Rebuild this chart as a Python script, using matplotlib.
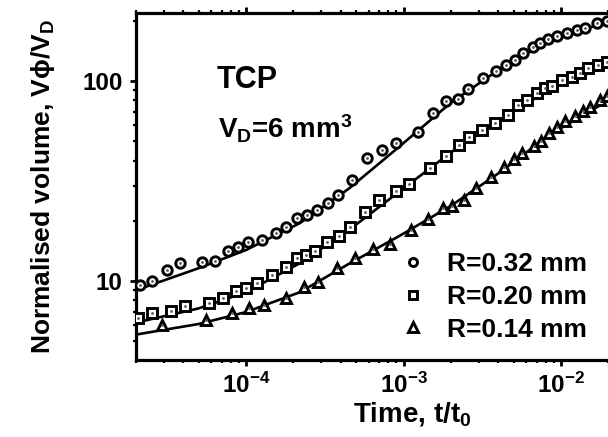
import math

import matplotlib
matplotlib.use('Agg')
import matplotlib.pyplot as plt
import matplotlib.ticker as tkr

plt.rcParams['font.family'] = ['Liberation Sans', 'DejaVu Sans']
plt.rcParams['font.weight'] = 'bold'
plt.rcParams['mathtext.fontset'] = 'custom'
plt.rcParams['mathtext.rm'] = 'Liberation Sans:bold'
plt.rcParams['mathtext.it'] = 'Liberation Sans:bold'
plt.rcParams['mathtext.bf'] = 'Liberation Sans:bold'

# R = 0.32 mm
t_032 = [2.11e-5, 2.52e-5, 3.14e-5, 3.80e-5, 5.25e-5, 6.35e-5, 7.68e-5, 8.89e-5,
         1.03e-4, 1.26e-4, 1.55e-4, 1.80e-4, 2.11e-4, 2.45e-4, 2.83e-4, 3.33e-4,
         3.85e-4, 4.73e-4, 5.90e-4, 7.35e-4, 9.02e-4, 1.23e-3, 1.53e-3, 1.85e-3,
         2.21e-3, 2.56e-3, 3.19e-3, 3.85e-3, 4.47e-3, 5.09e-3, 5.73e-3, 6.64e-3,
         7.35e-3, 8.26e-3, 9.44e-3, 1.09e-2, 1.26e-2, 1.42e-2, 1.69e-2, 1.96e-2]
v_032 = [9.55, 10.0, 11.35, 12.3, 12.4, 12.6, 14.1, 14.8,
         15.7, 16.0, 17.4, 18.6, 20.7, 21.4, 22.6, 24.5,
         26.9, 32.0, 41.2, 45.2, 49.0, 55.6, 69.2, 79.4,
         81.3, 91.2, 103.5, 112, 120, 127, 138, 148,
         155, 162, 168, 174, 180, 184, 195, 200]

# R = 0.20 mm
t_020 = [2.05e-5, 2.52e-5, 3.33e-5, 4.09e-5, 5.81e-5, 7.14e-5, 8.63e-5, 1.0e-4,
         1.17e-4, 1.46e-4, 1.80e-4, 2.11e-4, 2.41e-4, 2.75e-4, 3.28e-4, 3.91e-4,
         4.60e-4, 5.73e-4, 7.03e-4, 8.89e-4, 1.09e-3, 1.47e-3, 1.85e-3, 2.24e-3,
         2.59e-3, 3.14e-3, 3.80e-3, 4.59e-3, 5.32e-3, 6.07e-3, 7.03e-3, 7.91e-3,
         8.77e-3, 1.01e-2, 1.17e-2, 1.32e-2, 1.49e-2, 1.72e-2, 1.96e-2]
v_020 = [6.53, 6.92, 7.08, 7.50, 7.76, 8.22, 8.91, 9.23,
         9.77, 10.7, 11.7, 13.0, 13.5, 14.1, 15.7, 16.8,
         18.6, 22.1, 25.4, 28.2, 30.5, 36.7, 42.2, 47.9,
         52.5, 56.9, 61.7, 67.6, 75.9, 80.4, 87.1, 92.3,
         94.4, 101, 105, 110, 116, 120, 124]

# R = 0.14 mm
t_014 = [2.92e-5, 5.56e-5, 8.14e-5, 1.04e-4, 1.30e-4, 1.80e-4, 2.34e-4, 2.87e-4,
         3.80e-4, 4.94e-4, 6.44e-4, 8.15e-4, 1.12e-3, 1.42e-3, 1.77e-3, 2.02e-3,
         2.41e-3, 2.88e-3, 3.58e-3, 4.33e-3, 5.02e-3, 5.65e-3, 6.73e-3, 7.46e-3,
         8.39e-3, 9.44e-3, 1.06e-2, 1.23e-2, 1.38e-2, 1.53e-2, 1.77e-2, 1.96e-2]
v_014 = [6.03, 6.38, 6.92, 7.33, 7.59, 8.22, 9.33, 9.89,
         11.6, 13.0, 14.5, 15.3, 18.0, 20.4, 23.2, 23.7,
         25.4, 29.2, 33.1, 37.2, 40.7, 43.7, 47.3, 50.1,
         55.0, 58.9, 63.1, 66.8, 70.8, 74.1, 80.4, 84.1]

# fitted curves
t_fit = [2.0e-5, 5.0e-5, 1.0e-4, 2.2e-4, 4.5e-4, 9.4e-4, 2.0e-3, 4.1e-3, 8.5e-3, 2.0e-2]
fit_032 = [9.0, 11.6, 14.3, 19.5, 29.0, 47.0, 78.0, 115, 160, 198]
fit_020 = [6.2, 7.3, 8.8, 12.3, 18.0, 28.0, 44.0, 64.0, 91.0, 120]
fit_014 = [5.4, 6.1, 7.0, 8.8, 12.2, 16.8, 23.8, 35.0, 54.0, 80.0]

labels = ['R=0.32 mm', 'R=0.20 mm', 'R=0.14 mm']

fig = plt.figure(figsize=(6.08, 4.37), dpi=100)
ax = fig.add_axes([0.2237, 0.1762, 0.8263, 0.7941])

for vf in [fit_032, fit_020, fit_014]:
    ax.plot(t_fit, vf, color='black', lw=1.9, zorder=2)

handles = []
for t, v, m, ms, lab in [(t_032, v_032, 'o', 6.8, labels[0]),
                         (t_020, v_020, 's', 6.8, labels[1]),
                         (t_014, v_014, '^', 7.8, labels[2])]:
    h, = ax.plot(t, v, ls='none', marker=m, ms=ms, mfc='white', mec='black',
                 mew=2.1, zorder=3, label=lab)
    ax.plot(t, v, ls='none', marker='.', ms=2, color='0.35', zorder=4)
    handles.append(h)

ax.set_xscale('log')
ax.set_yscale('log')
ax.set_xlim(2e-5, 0.031)
ax.set_ylim(4.03, 219)

def yfmt(y, pos):
    return '%d' % y

def xfmt(x, pos):
    return r'$10^{%d}$' % int(round(math.log10(x)))

ax.yaxis.set_major_formatter(tkr.FuncFormatter(yfmt))
ax.xaxis.set_major_formatter(tkr.FuncFormatter(xfmt))
ax.xaxis.set_major_locator(tkr.LogLocator(base=10, numticks=10))
ax.xaxis.set_minor_locator(tkr.LogLocator(base=10, subs=range(2, 10), numticks=20))
ax.xaxis.set_minor_formatter(tkr.NullFormatter())
ax.yaxis.set_minor_formatter(tkr.NullFormatter())

for s in ax.spines.values():
    s.set_linewidth(2.3)
ax.tick_params(which='major', direction='out', length=4.5, width=2.0,
               labelsize=17.5, pad=5, top=True, right=False)
ax.tick_params(which='minor', direction='out', length=2.5, width=1.6,
               top=True, right=False)

ax.set_xlabel(r'Time, t/t$_{0}$', fontsize=20, fontweight='bold')
ax.set_ylabel(r'Normalised volume, V$\phi$/V$_{D}$', fontsize=19, fontweight='bold')
ax.xaxis.set_label_coords(0.55, -0.115)
ax.yaxis.set_label_coords(-0.157, 0.5)

fig.text(0.357, 0.799, 'TCP', fontsize=22, fontweight='bold', ha='left', va='baseline')
fig.text(0.3586, 0.684, r'V$_{D}$=6 mm$^{3}$', fontsize=20, fontweight='bold',
         ha='left', va='baseline')

leg = ax.legend(handles=handles, loc='center left', bbox_to_anchor=(0.6576, 0.3204),
                bbox_transform=fig.transFigure, frameon=False, fontsize=19,
                handlelength=1.0, handletextpad=0.79, labelspacing=0.33,
                borderpad=0, borderaxespad=0, markerscale=0.85)

fig.savefig('out.png', dpi=100)
